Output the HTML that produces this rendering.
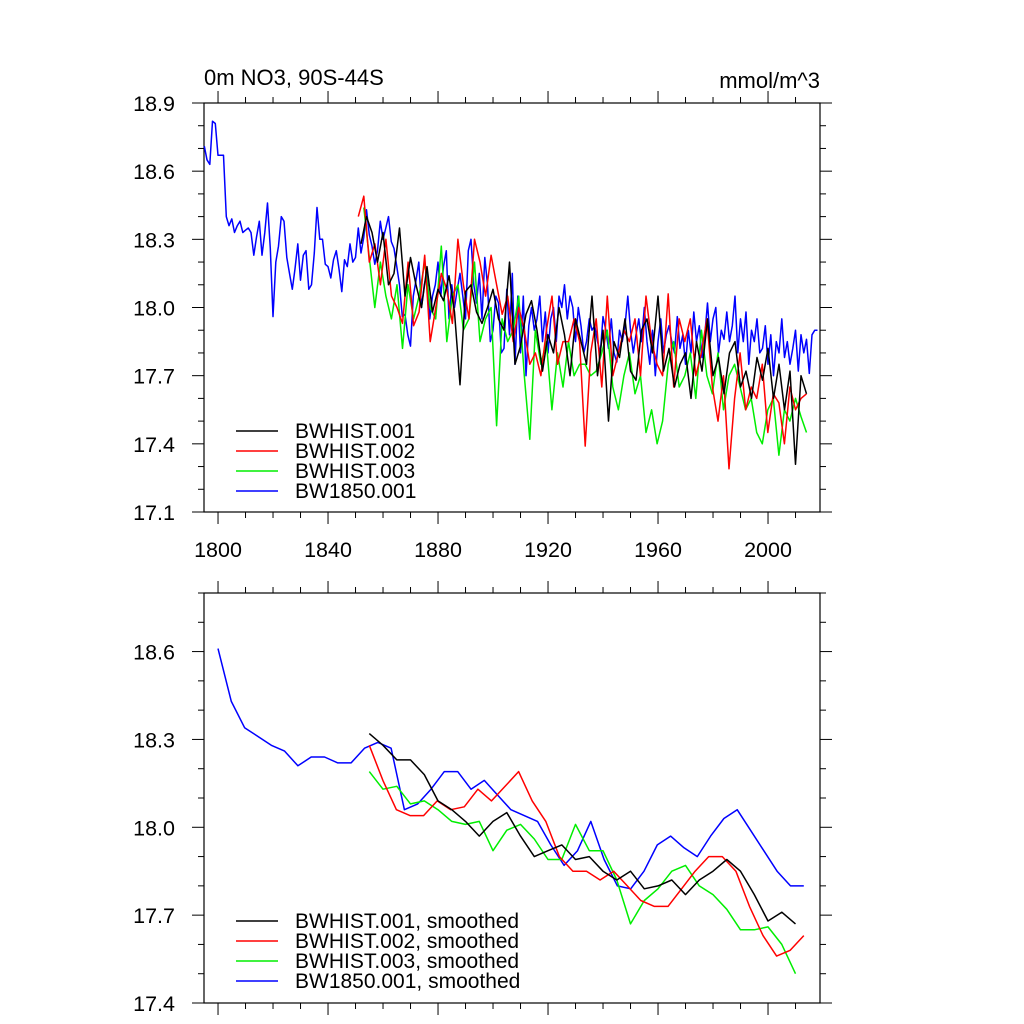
<!DOCTYPE html>
<html><head><meta charset="utf-8">
<style>
html,body{margin:0;padding:0;background:#fff;}
svg{display:block;font-family:"Liberation Sans",Arial,sans-serif;}
</style></head>
<body>
<svg id="chart" width="1024" height="1024" viewBox="0 0 1024 1024" xmlns="http://www.w3.org/2000/svg">
<text x="204" y="85" font-size="22">0m NO3, 90S-44S</text>
<text x="820" y="88" font-size="22" text-anchor="end">mmol/m^3</text>
<g id="top"></g>
<g id="bot"></g>
</svg>
<script>
// ---- data ----
const seriesNames = ["BWHIST.001","BWHIST.002","BWHIST.003","BW1850.001"];
const seriesColors = ["#000000","#ff0000","#00ee00","#0000ff"];
const yTicksTop = [17.1,17.4,17.7,18.0,18.3,18.6,18.9];
const yTicksBot = [17.4,17.7,18.0,18.3,18.6];
const xTicks = [1800,1840,1880,1920,1960,2000];

const blackSpan = [1852, 2014];
const blackVals = [18.28,18.40,18.33,18.20,18.33,18.10,18.15,18.35,18.05,18.22,18.10,18.00,18.18,17.98,18.08,18.03,18.14,17.98,17.66,18.07,18.10,17.98,17.93,18.00,18.08,17.95,17.90,18.20,17.75,17.83,17.97,18.03,17.90,17.72,17.88,17.80,18.00,17.88,17.70,17.95,17.85,17.75,18.05,17.70,17.90,17.50,17.85,17.78,17.95,17.72,17.68,17.90,17.95,17.80,18.05,17.72,17.82,17.65,17.75,17.80,17.60,17.85,17.72,17.95,17.70,17.78,17.62,17.80,17.85,17.65,17.72,17.60,17.78,17.68,17.82,17.60,17.75,17.55,17.72,17.31,17.70,17.62];
const redSpan = [1851, 2014];
const redVals = [18.40,18.49,18.20,18.28,18.10,18.30,18.05,18.00,17.93,18.20,17.92,17.98,18.23,17.85,18.00,18.15,18.08,17.93,18.30,18.10,17.95,18.30,18.20,18.05,18.23,18.10,17.97,18.05,17.85,18.00,17.90,17.75,17.80,17.70,17.90,18.05,17.75,17.85,17.85,17.95,17.85,17.39,17.80,17.95,17.65,18.05,17.70,17.80,17.90,17.85,17.95,17.70,18.05,17.85,17.75,17.70,18.06,17.65,17.95,17.85,17.95,17.70,17.80,17.95,17.65,17.50,17.70,17.29,17.60,17.80,17.55,17.65,17.60,17.75,17.45,17.62,17.58,17.40,17.65,17.55,17.60,17.62];
const greenSpan = [1853, 2014];
const greenVals = [18.44,18.22,18.00,18.20,18.05,17.95,18.10,17.82,18.10,17.95,18.05,18.20,18.00,17.95,18.27,17.85,18.05,18.10,17.90,17.95,18.20,17.85,17.95,18.00,17.48,17.95,17.85,17.90,18.05,17.70,17.42,17.90,17.75,17.85,17.55,17.80,17.65,17.85,17.70,17.75,17.75,17.70,17.72,17.80,17.90,17.65,17.55,17.70,17.80,17.62,17.70,17.45,17.55,17.40,17.50,17.75,17.85,17.65,17.70,17.80,17.60,17.90,17.70,17.62,17.80,17.55,17.70,17.75,17.65,17.55,17.60,17.45,17.40,17.55,17.60,17.35,17.55,17.50,17.60,17.52,17.45];
const blueSpan = [1795, 2018];
const blueVals = [18.71,18.65,18.63,18.82,18.81,18.67,18.67,18.67,18.40,18.36,18.39,18.33,18.36,18.38,18.33,18.34,18.35,18.33,18.23,18.31,18.38,18.23,18.33,18.46,18.26,17.96,18.20,18.27,18.40,18.38,18.22,18.15,18.08,18.17,18.28,18.12,18.23,18.25,18.08,18.10,18.24,18.44,18.30,18.30,18.19,18.18,18.13,18.21,18.25,18.17,18.07,18.21,18.18,18.28,18.20,18.22,18.35,18.24,18.31,18.43,18.32,18.27,18.19,18.25,18.38,18.30,18.35,18.40,18.29,18.26,18.18,18.10,17.96,17.97,17.88,17.83,18.05,18.12,18.20,18.00,18.10,18.15,17.95,18.05,18.10,18.20,18.05,18.18,18.25,17.95,18.10,18.00,18.08,18.15,18.05,17.95,18.25,18.30,18.10,18.02,18.15,17.95,18.22,18.10,17.85,17.90,18.05,18.02,17.80,17.82,18.08,17.88,18.15,17.75,18.05,17.80,18.05,17.70,17.92,18.00,17.90,17.95,18.05,17.85,17.98,17.80,17.95,18.00,17.85,18.05,18.00,18.10,17.95,18.05,18.00,17.85,18.00,17.92,17.80,17.85,17.95,17.90,17.92,17.85,17.80,17.96,17.90,17.82,17.95,17.80,17.76,17.90,17.85,17.92,18.05,17.90,17.80,17.88,17.95,17.85,18.00,17.85,17.75,17.90,17.70,17.85,17.95,17.80,17.88,17.92,17.85,17.80,17.96,17.82,17.88,17.75,17.90,17.80,17.98,17.85,17.92,17.78,17.88,18.02,17.85,17.95,18.00,17.80,17.90,17.86,17.98,17.85,17.92,18.05,17.80,17.95,17.85,17.98,17.75,17.90,17.85,17.95,17.80,17.82,17.92,17.75,17.88,17.70,17.85,17.80,17.95,17.78,17.85,17.75,17.82,17.90,17.72,17.88,17.80,17.86,17.71,17.88,17.90,17.90];

const sBlackSpan = [1855, 2010];
const sBlack = [18.32,18.28,18.23,18.23,18.18,18.09,18.06,18.02,17.97,18.02,18.05,17.97,17.90,17.92,17.94,17.89,17.90,17.85,17.82,17.85,17.79,17.80,17.82,17.77,17.82,17.85,17.89,17.85,17.77,17.68,17.71,17.67];
const sRedSpan = [1855, 2013];
const sRed = [18.28,18.16,18.06,18.04,18.04,18.09,18.06,18.07,18.13,18.09,18.14,18.19,18.09,18.02,17.90,17.85,17.85,17.82,17.85,17.80,17.75,17.73,17.73,17.79,17.85,17.90,17.90,17.85,17.73,17.63,17.56,17.58,17.63];
const sGreenSpan = [1855, 2010];
const sGreen = [18.19,18.13,18.14,18.08,18.09,18.06,18.02,18.01,18.02,17.92,17.99,18.01,17.96,17.89,17.89,18.01,17.92,17.92,17.82,17.67,17.75,17.79,17.85,17.87,17.80,17.77,17.72,17.65,17.65,17.66,17.60,17.50];
const sBlueSpan = [1800, 2013];
const sBlue = [18.61,18.43,18.34,18.31,18.28,18.26,18.21,18.24,18.24,18.22,18.22,18.27,18.29,18.27,18.06,18.08,18.13,18.19,18.19,18.13,18.16,18.11,18.06,18.04,18.02,17.94,17.87,17.92,18.02,17.89,17.80,17.79,17.85,17.94,17.97,17.93,17.90,17.97,18.03,18.06,17.99,17.92,17.85,17.80,17.80];

// ---- drawing ----
const NS="http://www.w3.org/2000/svg";
function mk(tag, attrs, parent){const e=document.createElementNS(NS,tag);for(const k in attrs)e.setAttribute(k,attrs[k]);parent.appendChild(e);return e;}
const X0=204, X1=820, XMIN=1794.9, XMAX=2018.9;
function xs(yr){return X0+(yr-XMIN)/(XMAX-XMIN)*(X1-X0);}

function panel(g, top, bot, ymin, ymax, yTicks, showXLabels, series, legendY, legendSuffix){
  const ys=v=>bot-(v-ymin)/(ymax-ymin)*(bot-top);
  const frame=mk('rect',{x:X0,y:top,width:X1-X0,height:bot-top,fill:'none',stroke:'#000','stroke-width':1.2},g);
  
  
  for(let yr=1800; yr<=2010; yr+=10){
    const major = xTicks.includes(yr);
    const L = major?12:6;
    const x=xs(yr);
    const t1=mk('line',{x1:x,x2:x,y1:bot,y2:bot+L,stroke:'#000','stroke-width':1},g);
    
    
    const t2=mk('line',{x1:x,x2:x,y1:top,y2:top-L,stroke:'#000','stroke-width':1},g);
    
    
    if(major && showXLabels){
      const tl=mk('text',{x:x,y:bot+45,'font-size':21.5,'text-anchor':'middle'},g);
      tl.textContent=yr;
      
      
    }
  }
  for(let v=ymin; v<=ymax+1e-6; v+=0.1){
    const vv=Math.round(v*10)/10;
    const major = yTicks.some(t=>Math.abs(t-vv)<1e-6);
    const L=major?12:6;
    const y=ys(vv);
    const a=mk('line',{x1:X0-L,x2:X0,y1:y,y2:y,stroke:'#000','stroke-width':1},g);
    
    
    const b=mk('line',{x1:X1,x2:X1+L,y1:y,y2:y,stroke:'#000','stroke-width':1},g);
    
    
    if(major){
      const tl=mk('text',{x:X0-29,y:y+8,'font-size':21.5,'text-anchor':'end'},g);
      tl.textContent=vv.toFixed(1);
      
      
    }
  }
  series.forEach((s,i)=>{
    const [y0,y1]=s.span; const n=s.vals.length;
    const pts=s.vals.map((v,k)=>xs(y0+k*(y1-y0)/(n-1)).toFixed(1)+','+ys(v).toFixed(1)).join(' ');
    const pl=mk('polyline',{points:pts,fill:'none',stroke:seriesColors[s.c],'stroke-width':1.5,'stroke-linejoin':'round'},g);
    
    
  });
  seriesNames.forEach((nm,i)=>{
    const y=legendY+i*20;
    const ln=mk('line',{x1:236,x2:278,y1:y,y2:y,stroke:seriesColors[i],'stroke-width':1.5},g);
    
    
    const tx=mk('text',{x:295,y:y+7,'font-size':21},g);
    tx.textContent=nm+legendSuffix;
    
    
  });
}

panel(document.getElementById('top'),103,512,17.1,18.9,yTicksTop,true,[
  {span:blueSpan,vals:blueVals,c:3},
  {span:greenSpan,vals:greenVals,c:2},
  {span:redSpan,vals:redVals,c:1},
  {span:blackSpan,vals:blackVals,c:0}
],431,"");
panel(document.getElementById('bot'),593,1003,17.4,18.8,yTicksBot,false,[
  {span:sBlueSpan,vals:sBlue,c:3},
  {span:sGreenSpan,vals:sGreen,c:2},
  {span:sRedSpan,vals:sRed,c:1},
  {span:sBlackSpan,vals:sBlack,c:0}
],921,", smoothed");
</script>
</body></html>
